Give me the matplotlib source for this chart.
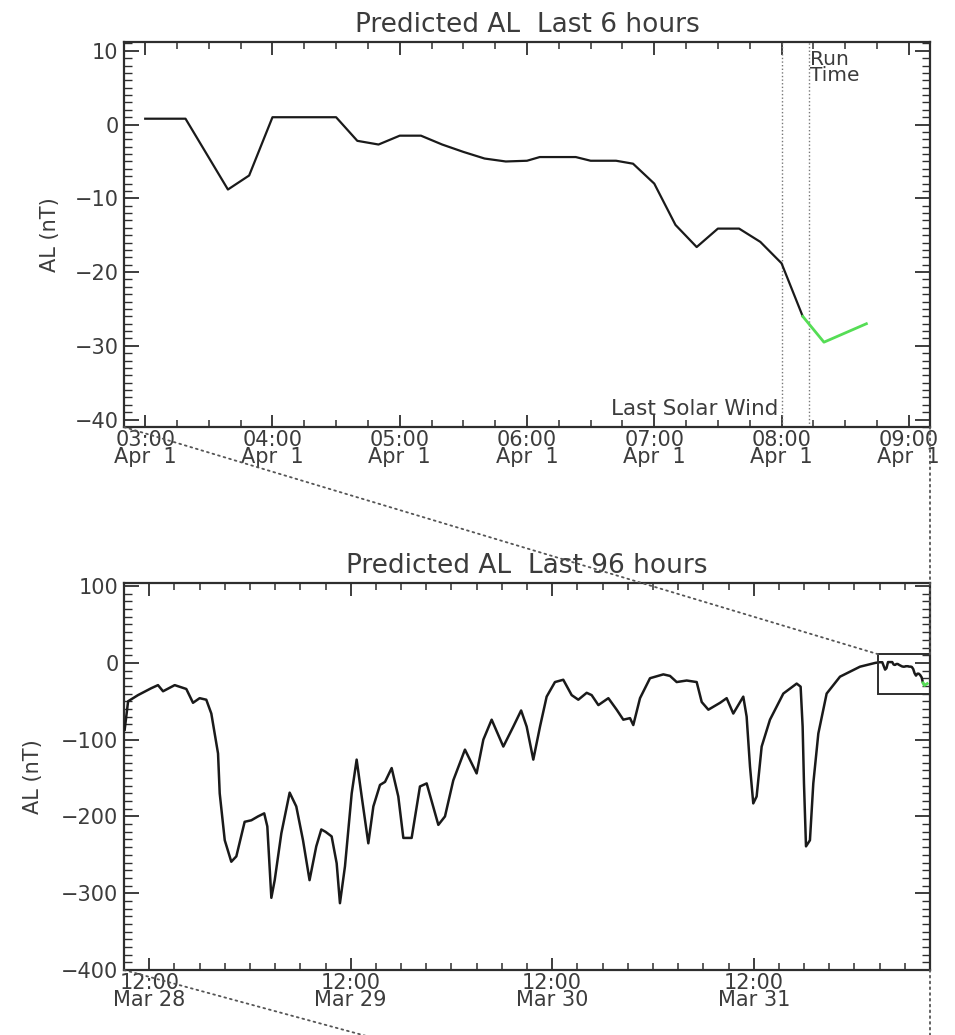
import matplotlib
matplotlib.use("Agg")
import matplotlib.pyplot as plt
import matplotlib.dates as mdates
import matplotlib.transforms as mtransforms
from matplotlib.patches import Rectangle, ConnectionPatch
from matplotlib.ticker import MultipleLocator, FuncFormatter
from datetime import datetime, timedelta

# ---------------- data ----------------
# Last 6 hours (Apr 1), observed-driven prediction (black)
top_times = ["03:00", "03:19", "03:39", "03:49", "04:00", "04:30", "04:40", "04:50",
             "05:00", "05:10", "05:20", "05:30", "05:40", "05:50", "06:00", "06:06",
             "06:23", "06:30", "06:42", "06:50", "07:00", "07:10", "07:20", "07:30",
             "07:40", "07:50", "08:00", "08:10"]
top_al = [0.8, 0.8, -8.8, -6.9, 1.0, 1.0, -2.2, -2.7,
          -1.5, -1.5, -2.7, -3.7, -4.6, -5.0, -4.9, -4.4,
          -4.4, -4.9, -4.9, -5.3, -8.0, -13.6, -16.6, -14.1,
          -14.1, -15.9, -18.8, -26.0]
# forecast beyond the run time (green)
pred_times = ["08:10", "08:20", "08:40"]
pred_al = [-26.0, -29.5, -27.0]

last_solar_wind = "08:00"
run_time = "08:13"

# Last 96 hours: hours after Mar 28 09:00 and AL (nT)
hist_hours = [0.08, 0.27, 0.49, 1.67, 3.25, 4.05, 4.65, 6.04, 7.42, 8.22, 9.01, 9.8,
              10.4, 11.2, 11.4, 12.0, 12.78, 13.38, 14.37, 15.17, 15.96, 16.7, 17.07,
              17.55, 17.95, 18.74, 19.73, 20.52, 21.32, 22.1, 22.9, 23.5, 24.0, 24.73,
              25.33, 25.72, 26.32, 27.12, 27.71, 28.31, 29.1, 29.7, 30.49, 31.09, 31.88,
              32.67, 33.27, 34.26, 35.25, 36.05, 37.44, 38.23, 39.22, 40.61, 42.0, 42.8,
              43.79, 45.18, 46.37, 47.3, 47.96, 48.75, 49.55, 50.34, 51.33, 52.32, 53.32,
              54.11, 55.11, 55.7, 56.5, 57.69, 58.68, 59.47, 60.27, 60.66, 61.46, 62.65,
              64.24, 65.03, 65.83, 67.02, 68.21, 68.81, 69.6, 71.0, 71.78, 72.57, 73.17,
              73.76, 74.16, 74.56, 74.95, 75.35, 75.95, 76.94, 78.53, 80.12, 80.59, 80.83,
              80.99, 81.23, 81.7, 82.1, 82.7, 83.69, 85.28, 87.66, 89.5]
hist_al = [-87, -70, -50, -42, -33, -29, -37, -29, -34, -52, -46, -48,
           -66, -118, -170, -231, -259, -252, -207, -205, -200, -196, -213,
           -306, -283, -222, -169, -187, -231, -283, -239, -217, -220, -226,
           -261, -313, -265, -170, -126, -174, -235, -187, -159, -155, -137,
           -174, -228, -228, -161, -157, -211, -200, -153, -113, -144, -100,
           -74, -109, -83, -62, -83, -126, -83, -44, -25, -22, -42,
           -48, -39, -42, -55, -46, -61, -74, -72, -81, -46, -20,
           -15, -17, -25, -23, -25, -51, -61, -52, -46, -66, -55,
           -44, -70, -135, -183, -174, -109, -74, -40, -27, -31, -83,
           -157, -239, -231, -157, -92, -40, -18, -5, 0]

# ---------------- helpers ----------------
day = datetime(2025, 4, 1)
def hm(s):
    h, m = s.split(":")
    return day + timedelta(hours=int(h), minutes=int(m))

t_top = [hm(s) for s in top_times]
t_pred = [hm(s) for s in pred_times]
hist_start = datetime(2025, 3, 28, 9, 0)
t_hist = [hist_start + timedelta(hours=h) for h in hist_hours] + t_top
al_hist = hist_al + top_al

top_xlim = (hm("02:50"), hm("09:10"))
top_ylim = (-41, 11.2)
bot_xlim = (hist_start, hist_start + timedelta(hours=96))
bot_ylim = (-400, 104)

TXT = "#3c3c3c"
FR = "#2e2e2e"
GREEN = "#55dd55"
FS = 15
TFS = 19

def fmt(x, pos):
    d = mdates.num2date(x)
    return f"{d:%H:%M}\n{d:%b} {d.day:2d}"

W, H = 955, 1035
fig = plt.figure(figsize=(W / 100, H / 100), dpi=100)
plt.rcParams["font.family"] = ["DejaVu Sans"]

def ax_rect(l, t, r, b):
    return [l / W, 1 - b / H, (r - l) / W, (b - t) / H]

ax1 = fig.add_axes(ax_rect(124, 42, 930, 427))
ax2 = fig.add_axes(ax_rect(124, 583, 930, 970))

for ax in (ax1, ax2):
    for sp in ax.spines.values():
        sp.set_linewidth(1.6)
        sp.set_color(FR)
    ax.tick_params(which="both", direction="in", top=True, right=True,
                   color=FR, labelcolor=TXT, labelsize=FS)
    ax.tick_params(axis="x", which="major", length=9, width=1.3, pad=2)
    ax.tick_params(axis="x", which="minor", length=5, width=1.1)
    ax.tick_params(axis="y", which="major", length=11, width=1.3, pad=4)
    ax.tick_params(axis="y", which="minor", length=6, width=1.0)
    ax.xaxis.set_major_formatter(FuncFormatter(fmt))

# ---- top panel ----
ax1.plot(t_top, top_al, color="#1a1a1a", lw=1.6, zorder=3)
ax1.plot(t_pred, pred_al, color=GREEN, lw=2.0, zorder=3)
ax1.set_xlim(*top_xlim)
ax1.set_ylim(*top_ylim)
ax1.xaxis.set_major_locator(mdates.HourLocator())
ax1.xaxis.set_minor_locator(mdates.MinuteLocator(byminute=[0, 15, 30, 45]))
ax1.yaxis.set_major_locator(MultipleLocator(10))
ax1.yaxis.set_minor_locator(MultipleLocator(1))
for tt in (last_solar_wind, run_time):
    ax1.axvline(hm(tt), color="#777777", lw=1.0, ls=(0, (1, 1.6)), zorder=2)
ax1.annotate("Last Solar Wind", xy=(hm(last_solar_wind), 0.031),
             xycoords=("data", "axes fraction"), xytext=(-2, 0),
             textcoords="offset points", ha="right", va="baseline",
             fontsize=FS + 0.5, color=TXT)
ax1.annotate("Run\nTime", xy=(hm(run_time), 0.979),
             xycoords=("data", "axes fraction"), xytext=(0.5, 0),
             textcoords="offset points", ha="left", va="top",
             fontsize=FS - 0.5, color=TXT, linespacing=0.8)
ax1.set_title("Predicted AL  Last 6 hours", fontsize=TFS, color=TXT, pad=7)
ax1.set_ylabel("AL (nT)", fontsize=FS, color=TXT)
ax1.yaxis.set_label_coords(-0.079, 0.5)

# ---- bottom panel ----
ax2.plot(t_hist, al_hist, color="#1a1a1a", lw=1.8, zorder=3)
ax2.plot(t_pred, pred_al, color=GREEN, lw=2.0, zorder=3)
ax2.set_xlim(*bot_xlim)
ax2.set_ylim(*bot_ylim)
ax2.xaxis.set_major_locator(mdates.HourLocator(byhour=[12]))
ax2.xaxis.set_minor_locator(mdates.HourLocator(byhour=range(0, 24, 3)))
ax2.yaxis.set_major_locator(MultipleLocator(100))
ax2.yaxis.set_minor_locator(MultipleLocator(10))
ax2.set_title("Predicted AL  Last 96 hours", fontsize=TFS, color=TXT, pad=7)
ax2.set_ylabel("AL (nT)", fontsize=FS, color=TXT)
ax2.yaxis.set_label_coords(-0.100, 0.5)

# zoom box of the top panel's range
x0 = mdates.date2num(top_xlim[0])
x1 = mdates.date2num(top_xlim[1])
rect = Rectangle((x0, top_ylim[0]), x1 - x0, top_ylim[1] - top_ylim[0],
                 fill=False, edgecolor=FR, lw=1.4, zorder=4, clip_on=True)
ax2.add_patch(rect)

# connector lines (dotted)
dot = dict(color="#555555", lw=1.3, ls=(0, (1, 2.2)), zorder=10)
c1 = ConnectionPatch(xyA=(0, 0), coordsA=ax1.transAxes,
                     xyB=(x0, top_ylim[1]), coordsB=ax2.transData, **dot)
fig.add_artist(c1)
blend2 = mtransforms.blended_transform_factory(ax2.transAxes, ax2.transData)
c2 = ConnectionPatch(xyA=(1, 0), coordsA=ax1.transAxes,
                     xyB=(1, top_ylim[1]), coordsB=blend2, **dot)
fig.add_artist(c2)
# connectors toward the next (off-page) panel
c3 = ConnectionPatch(xyA=(0, 0), coordsA=ax2.transAxes,
                     xyB=(392 / W, -8 / H), coordsB=fig.transFigure, **dot)
fig.add_artist(c3)
c4 = ConnectionPatch(xyA=(1, 0), coordsA=ax2.transAxes,
                     xyB=(1, -8 / H),
                     coordsB=mtransforms.blended_transform_factory(ax2.transAxes, fig.transFigure),
                     **dot)
fig.add_artist(c4)

fig.canvas.draw()
for ax in (ax1, ax2):
    for lbl in ax.get_xticklabels():
        lbl.set_linespacing(0.85)

fig.savefig("out.png", dpi=100, facecolor="white")
